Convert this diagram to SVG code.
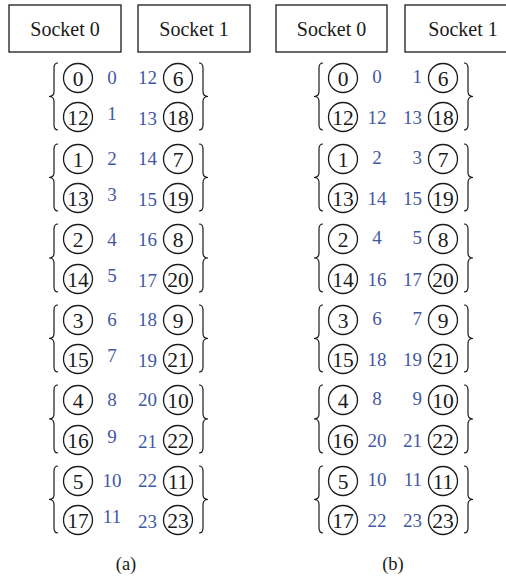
<svg xmlns="http://www.w3.org/2000/svg" width="506" height="576" viewBox="0 0 506 576">
<style>
.sock{fill:#fff;stroke:#1a1a1a;stroke-width:1.3}
.st{font-family:"Liberation Serif",serif;font-size:20px;fill:#1a1a1a;text-anchor:middle}
.c{fill:none;stroke:#1a1a1a;stroke-width:1.3}
.n{font-family:"Liberation Serif",serif;font-size:21.5px;fill:#1a1a1a;text-anchor:middle}
.bl{font-family:"Liberation Serif",serif;font-size:19px;fill:#3f58a6;text-anchor:middle}
.br{font-family:"Liberation Serif",serif;font-size:19px;fill:#3f58a6;text-anchor:end}
.brace{fill:none;stroke:#1a1a1a;stroke-width:1.2}
.cap{font-family:"Liberation Serif",serif;font-size:18.5px;fill:#1a1a1a;text-anchor:middle}
</style>
<rect width="506" height="576" fill="#fff"/>
<g id="a-socket0"><rect class="sock" x="9" y="5" width="112" height="47"/><text class="st" x="65" y="36">Socket 0</text></g>
<g id="a-socket1"><rect class="sock" x="138" y="5" width="112" height="47"/><text class="st" x="194" y="36">Socket 1</text></g>
<g id="b-socket0"><rect class="sock" x="276" y="5" width="111" height="47"/><text class="st" x="331.5" y="36">Socket 0</text></g>
<g id="b-socket1"><rect class="sock" x="405" y="5" width="112" height="47"/><text class="st" x="463" y="36">Socket 1</text></g>
<g id="braces">
<path class="brace" d="M58,63 Q54,63 54,68 V91.5 Q54,96.5 49,96.5 Q54,96.5 54,101.5 V125 Q54,130 58,130"/>
<path class="brace" d="M199,63 Q203,63 203,68 V91.5 Q203,96.5 208,96.5 Q203,96.5 203,101.5 V125 Q203,130 199,130"/>
<path class="brace" d="M58,144 Q54,144 54,149 V172.5 Q54,177.5 49,177.5 Q54,177.5 54,182.5 V206 Q54,211 58,211"/>
<path class="brace" d="M199,144 Q203,144 203,149 V172.5 Q203,177.5 208,177.5 Q203,177.5 203,182.5 V206 Q203,211 199,211"/>
<path class="brace" d="M58,224 Q54,224 54,229 V253 Q54,258 49,258 Q54,258 54,263 V287 Q54,292 58,292"/>
<path class="brace" d="M199,224 Q203,224 203,229 V253 Q203,258 208,258 Q203,258 203,263 V287 Q203,292 199,292"/>
<path class="brace" d="M58,305 Q54,305 54,310 V333.5 Q54,338.5 49,338.5 Q54,338.5 54,343.5 V367 Q54,372 58,372"/>
<path class="brace" d="M199,305 Q203,305 203,310 V333.5 Q203,338.5 208,338.5 Q203,338.5 203,343.5 V367 Q203,372 199,372"/>
<path class="brace" d="M58,385 Q54,385 54,390 V414 Q54,419 49,419 Q54,419 54,424 V448 Q54,453 58,453"/>
<path class="brace" d="M199,385 Q203,385 203,390 V414 Q203,419 208,419 Q203,419 203,424 V448 Q203,453 199,453"/>
<path class="brace" d="M58,466 Q54,466 54,471 V494.5 Q54,499.5 49,499.5 Q54,499.5 54,504.5 V528 Q54,533 58,533"/>
<path class="brace" d="M199,466 Q203,466 203,471 V494.5 Q203,499.5 208,499.5 Q203,499.5 203,504.5 V528 Q203,533 199,533"/>
<path class="brace" d="M323,63 Q319,63 319,68 V91.5 Q319,96.5 314,96.5 Q319,96.5 319,101.5 V125 Q319,130 323,130"/>
<path class="brace" d="M464,63 Q468,63 468,68 V91.5 Q468,96.5 473,96.5 Q468,96.5 468,101.5 V125 Q468,130 464,130"/>
<path class="brace" d="M323,144 Q319,144 319,149 V172.5 Q319,177.5 314,177.5 Q319,177.5 319,182.5 V206 Q319,211 323,211"/>
<path class="brace" d="M464,144 Q468,144 468,149 V172.5 Q468,177.5 473,177.5 Q468,177.5 468,182.5 V206 Q468,211 464,211"/>
<path class="brace" d="M323,224 Q319,224 319,229 V253 Q319,258 314,258 Q319,258 319,263 V287 Q319,292 323,292"/>
<path class="brace" d="M464,224 Q468,224 468,229 V253 Q468,258 473,258 Q468,258 468,263 V287 Q468,292 464,292"/>
<path class="brace" d="M323,305 Q319,305 319,310 V333.5 Q319,338.5 314,338.5 Q319,338.5 319,343.5 V367 Q319,372 323,372"/>
<path class="brace" d="M464,305 Q468,305 468,310 V333.5 Q468,338.5 473,338.5 Q468,338.5 468,343.5 V367 Q468,372 464,372"/>
<path class="brace" d="M323,385 Q319,385 319,390 V414 Q319,419 314,419 Q319,419 319,424 V448 Q319,453 323,453"/>
<path class="brace" d="M464,385 Q468,385 468,390 V414 Q468,419 473,419 Q468,419 468,424 V448 Q468,453 464,453"/>
<path class="brace" d="M323,466 Q319,466 319,471 V494.5 Q319,499.5 314,499.5 Q319,499.5 319,504.5 V528 Q319,533 323,533"/>
<path class="brace" d="M464,466 Q468,466 468,471 V494.5 Q468,499.5 473,499.5 Q468,499.5 468,504.5 V528 Q468,533 464,533"/>
</g>
<g id="panel-a">
<g id="a-c0"><circle class="c" cx="78" cy="78" r="14.5"/><text class="n" x="78" y="85.5">0</text></g>
<g id="a-c12"><circle class="c" cx="78" cy="117" r="14.5"/><text class="n" x="78" y="124.5">12</text></g>
<g id="a-c6"><circle class="c" cx="178" cy="78" r="14.5"/><text class="n" x="178" y="85.5">6</text></g>
<g id="a-c18"><circle class="c" cx="178" cy="117" r="14.5"/><text class="n" x="178" y="124.5">18</text></g>
<text class="bl" x="112" y="84">0</text><text class="bl" x="112" y="120">1</text>
<text class="br" x="157" y="84">12</text><text class="br" x="157" y="125">13</text>

<g id="a-c1"><circle class="c" cx="78" cy="159" r="14.5"/><text class="n" x="78" y="166.5">1</text></g>
<g id="a-c13"><circle class="c" cx="78" cy="198" r="14.5"/><text class="n" x="78" y="205.5">13</text></g>
<g id="a-c7"><circle class="c" cx="178" cy="159" r="14.5"/><text class="n" x="178" y="166.5">7</text></g>
<g id="a-c19"><circle class="c" cx="178" cy="198" r="14.5"/><text class="n" x="178" y="205.5">19</text></g>
<text class="bl" x="112" y="165">2</text><text class="bl" x="112" y="201">3</text>
<text class="br" x="157" y="165">14</text><text class="br" x="157" y="206">15</text>

<g id="a-c2"><circle class="c" cx="78" cy="239" r="14.5"/><text class="n" x="78" y="246.5">2</text></g>
<g id="a-c14"><circle class="c" cx="78" cy="279" r="14.5"/><text class="n" x="78" y="286.5">14</text></g>
<g id="a-c8"><circle class="c" cx="178" cy="239" r="14.5"/><text class="n" x="178" y="246.5">8</text></g>
<g id="a-c20"><circle class="c" cx="178" cy="279" r="14.5"/><text class="n" x="178" y="286.5">20</text></g>
<text class="bl" x="112" y="246">4</text><text class="bl" x="112" y="282">5</text>
<text class="br" x="157" y="246">16</text><text class="br" x="157" y="287">17</text>

<g id="a-c3"><circle class="c" cx="78" cy="320" r="14.5"/><text class="n" x="78" y="327.5">3</text></g>
<g id="a-c15"><circle class="c" cx="78" cy="359" r="14.5"/><text class="n" x="78" y="366.5">15</text></g>
<g id="a-c9"><circle class="c" cx="178" cy="320" r="14.5"/><text class="n" x="178" y="327.5">9</text></g>
<g id="a-c21"><circle class="c" cx="178" cy="359" r="14.5"/><text class="n" x="178" y="366.5">21</text></g>
<text class="bl" x="112" y="326">6</text><text class="bl" x="112" y="362">7</text>
<text class="br" x="157" y="326">18</text><text class="br" x="157" y="367">19</text>

<g id="a-c4"><circle class="c" cx="78" cy="400" r="14.5"/><text class="n" x="78" y="407.5">4</text></g>
<g id="a-c16"><circle class="c" cx="78" cy="440" r="14.5"/><text class="n" x="78" y="447.5">16</text></g>
<g id="a-c10"><circle class="c" cx="178" cy="400" r="14.5"/><text class="n" x="178" y="407.5">10</text></g>
<g id="a-c22"><circle class="c" cx="178" cy="440" r="14.5"/><text class="n" x="178" y="447.5">22</text></g>
<text class="bl" x="112" y="406">8</text><text class="bl" x="112" y="443">9</text>
<text class="br" x="157" y="406">20</text><text class="br" x="157" y="448">21</text>

<g id="a-c5"><circle class="c" cx="78" cy="481" r="14.5"/><text class="n" x="78" y="488.5">5</text></g>
<g id="a-c17"><circle class="c" cx="78" cy="520" r="14.5"/><text class="n" x="78" y="527.5">17</text></g>
<g id="a-c11"><circle class="c" cx="178" cy="481" r="14.5"/><text class="n" x="178" y="488.5">11</text></g>
<g id="a-c23"><circle class="c" cx="178" cy="520" r="14.5"/><text class="n" x="178" y="527.5">23</text></g>
<text class="bl" x="112" y="487">10</text><text class="bl" x="112" y="523">11</text>
<text class="br" x="157" y="487">22</text><text class="br" x="157" y="528">23</text>
</g>
<g id="panel-b">
<g id="b-c0"><circle class="c" cx="343" cy="78" r="14.5"/><text class="n" x="343" y="85.5">0</text></g>
<g id="b-c12"><circle class="c" cx="343" cy="117" r="14.5"/><text class="n" x="343" y="124.5">12</text></g>
<g id="b-c6"><circle class="c" cx="443" cy="78" r="14.5"/><text class="n" x="443" y="85.5">6</text></g>
<g id="b-c18"><circle class="c" cx="443" cy="117" r="14.5"/><text class="n" x="443" y="124.5">18</text></g>
<text class="bl" x="377" y="83">0</text><text class="bl" x="377" y="123.5">12</text>
<text class="br" x="422" y="83">1</text><text class="br" x="422" y="123.5">13</text>

<g id="b-c1"><circle class="c" cx="343" cy="159" r="14.5"/><text class="n" x="343" y="166.5">1</text></g>
<g id="b-c13"><circle class="c" cx="343" cy="198" r="14.5"/><text class="n" x="343" y="205.5">13</text></g>
<g id="b-c7"><circle class="c" cx="443" cy="159" r="14.5"/><text class="n" x="443" y="166.5">7</text></g>
<g id="b-c19"><circle class="c" cx="443" cy="198" r="14.5"/><text class="n" x="443" y="205.5">19</text></g>
<text class="bl" x="377" y="164">2</text><text class="bl" x="377" y="204.5">14</text>
<text class="br" x="422" y="164">3</text><text class="br" x="422" y="204.5">15</text>

<g id="b-c2"><circle class="c" cx="343" cy="239" r="14.5"/><text class="n" x="343" y="246.5">2</text></g>
<g id="b-c14"><circle class="c" cx="343" cy="279" r="14.5"/><text class="n" x="343" y="286.5">14</text></g>
<g id="b-c8"><circle class="c" cx="443" cy="239" r="14.5"/><text class="n" x="443" y="246.5">8</text></g>
<g id="b-c20"><circle class="c" cx="443" cy="279" r="14.5"/><text class="n" x="443" y="286.5">20</text></g>
<text class="bl" x="377" y="244">4</text><text class="bl" x="377" y="285.5">16</text>
<text class="br" x="422" y="244">5</text><text class="br" x="422" y="285.5">17</text>

<g id="b-c3"><circle class="c" cx="343" cy="320" r="14.5"/><text class="n" x="343" y="327.5">3</text></g>
<g id="b-c15"><circle class="c" cx="343" cy="359" r="14.5"/><text class="n" x="343" y="366.5">15</text></g>
<g id="b-c9"><circle class="c" cx="443" cy="320" r="14.5"/><text class="n" x="443" y="327.5">9</text></g>
<g id="b-c21"><circle class="c" cx="443" cy="359" r="14.5"/><text class="n" x="443" y="366.5">21</text></g>
<text class="bl" x="377" y="325">6</text><text class="bl" x="377" y="365.5">18</text>
<text class="br" x="422" y="325">7</text><text class="br" x="422" y="365.5">19</text>

<g id="b-c4"><circle class="c" cx="343" cy="400" r="14.5"/><text class="n" x="343" y="407.5">4</text></g>
<g id="b-c16"><circle class="c" cx="343" cy="440" r="14.5"/><text class="n" x="343" y="447.5">16</text></g>
<g id="b-c10"><circle class="c" cx="443" cy="400" r="14.5"/><text class="n" x="443" y="407.5">10</text></g>
<g id="b-c22"><circle class="c" cx="443" cy="440" r="14.5"/><text class="n" x="443" y="447.5">22</text></g>
<text class="bl" x="377" y="405">8</text><text class="bl" x="377" y="446.5">20</text>
<text class="br" x="422" y="405">9</text><text class="br" x="422" y="446.5">21</text>

<g id="b-c5"><circle class="c" cx="343" cy="481" r="14.5"/><text class="n" x="343" y="488.5">5</text></g>
<g id="b-c17"><circle class="c" cx="343" cy="520" r="14.5"/><text class="n" x="343" y="527.5">17</text></g>
<g id="b-c11"><circle class="c" cx="443" cy="481" r="14.5"/><text class="n" x="443" y="488.5">11</text></g>
<g id="b-c23"><circle class="c" cx="443" cy="520" r="14.5"/><text class="n" x="443" y="527.5">23</text></g>
<text class="bl" x="377" y="486">10</text><text class="bl" x="377" y="526.5">22</text>
<text class="br" x="422" y="486">11</text><text class="br" x="422" y="526.5">23</text>
</g>
<text class="cap" x="126" y="570">(a)</text>
<text class="cap" x="393" y="570">(b)</text>
</svg>
